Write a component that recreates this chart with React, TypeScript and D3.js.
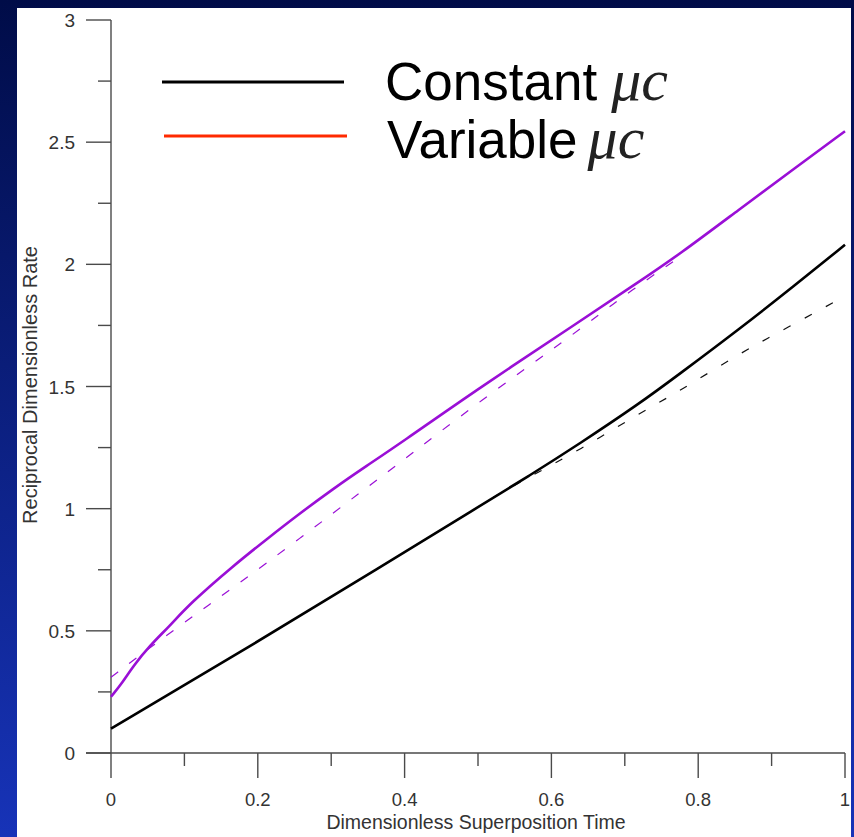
import React from "react";
import * as d3 from "d3";

const constX = [0, 0.2, 0.366, 0.502, 0.57, 0.638, 0.72, 0.774, 0.856, 0.93, 1.0];
const constY = [0.1, 0.455, 0.76, 1.01, 1.135, 1.265, 1.43, 1.55, 1.735, 1.91, 2.08];

const constDashX = [0.52, 0.57, 0.638, 0.72, 0.774, 0.856, 0.921, 1.0];
const constDashY = [1.045, 1.13, 1.24, 1.39, 1.48, 1.635, 1.74, 1.87];

const varX = [0, 0.016, 0.03, 0.053, 0.08, 0.107, 0.166, 0.212, 0.257, 0.302, 0.348, 0.393, 0.502, 0.638, 0.72, 0.774, 0.856, 0.93, 1.0];
const varY = [0.23, 0.29, 0.355, 0.44, 0.52, 0.61, 0.765, 0.875, 0.98, 1.08, 1.175, 1.265, 1.495, 1.765, 1.93, 2.04, 2.225, 2.39, 2.545];

const varDashX = [0, 0.057, 0.121, 0.166, 0.257, 0.348, 0.384, 0.502, 0.638, 0.693, 0.77];
const varDashY = [0.31, 0.44, 0.58, 0.676, 0.877, 1.086, 1.165, 1.44, 1.73, 1.86, 2.02];

const xMajor = [0, 0.2, 0.4, 0.6, 0.8, 1];
const xMinor = [0.1, 0.3, 0.5, 0.7, 0.9];
const yMajor = [0, 0.5, 1, 1.5, 2, 2.5, 3];
const yMinor = [0.25, 0.75, 1.25, 1.75, 2.25, 2.75];

const legendLabels = ["Constant", "Variable"];
const legendSymbol = "μc";
const xTitle = "Dimensionless Superposition Time";
const yTitle = "Reciprocal Dimensionless Rate";

export default function App() {
  const W = 854, H = 837;
  const x = d3.scaleLinear().domain([0, 1]).range([111, 845]);
  const y = d3.scaleLinear().domain([0, 3]).range([753, 20]);
  const line = (xs: number[], ys: number[]) =>
    d3.line<number>().x((_, i) => x(xs[i])).y((d) => y(d)).curve(d3.curveBasis)(ys) || "";

  const axisColor = "#4a4a4a";
  const textColor = "#333";
  const font = "'Liberation Sans', Arial, sans-serif";
  const serif = "'Liberation Serif', 'Times New Roman', serif";
  const purple = "#9a0fd6";

  return (
    <svg width={W} height={H} style={{ position: "absolute", left: 0, top: 0 }}>
      <defs>
        <linearGradient id="bg" x1="0" y1="0" x2="0" y2="1">
          <stop offset="0" stopColor="#000c48" />
          <stop offset="1" stopColor="#1733b8" />
        </linearGradient>
      </defs>
      <rect x={0} y={0} width={W} height={H} fill="url(#bg)" />
      <rect x={17} y={8} width={834} height={H - 8} fill="#fff" />

      {/* axes */}
      <line x1={111} y1={y(3)} x2={111} y2={y(0)} stroke={axisColor} strokeWidth={1.4} />
      <line x1={86} y1={y(0)} x2={x(1)} y2={y(0)} stroke={axisColor} strokeWidth={1.4} />
      {xMajor.map((v) => (
        <g key={"xM" + v}>
          <line x1={x(v)} x2={x(v)} y1={y(0)} y2={y(0) + 25} stroke={axisColor} strokeWidth={1.4} />
          <text x={x(v)} y={806} textAnchor="middle" fontFamily={font} fontSize={18.5} fill={textColor}>
            {v}
          </text>
        </g>
      ))}
      {xMinor.map((v) => (
        <line key={"xm" + v} x1={x(v)} x2={x(v)} y1={y(0)} y2={y(0) + 13} stroke={axisColor} strokeWidth={1.4} />
      ))}
      {yMajor.map((v) => (
        <g key={"yM" + v}>
          <line x1={86} x2={111} y1={y(v)} y2={y(v)} stroke={axisColor} strokeWidth={1.4} />
          <text x={75} y={y(v) + 7} textAnchor="end" fontFamily={font} fontSize={19} fill={textColor}>
            {v}
          </text>
        </g>
      ))}
      {yMinor.map((v) => (
        <line key={"ym" + v} x1={98} x2={111} y1={y(v)} y2={y(v)} stroke={axisColor} strokeWidth={1.4} />
      ))}

      <text x={476} y={829} textAnchor="middle" fontFamily={font} fontSize={19.5} fill={textColor}>
        {xTitle}
      </text>
      <text
        transform={`translate(37,385) rotate(-90)`}
        textAnchor="middle"
        fontFamily={font}
        fontSize={20}
        fill={textColor}
      >
        {yTitle}
      </text>

      {/* series */}
      <path d={line(varDashX, varDashY)} fill="none" stroke={purple} strokeWidth={1.2} strokeDasharray="9,14" />
      <path d={line(constDashX, constDashY)} fill="none" stroke="#111" strokeWidth={1.2} strokeDasharray="8,16" />
      <path d={line(constX, constY)} fill="none" stroke="#000" strokeWidth={2.6} />
      <path d={line(varX, varY)} fill="none" stroke={purple} strokeWidth={2.6} />

      {/* legend */}
      <line x1={162} x2={344} y1={82} y2={82} stroke="#000" strokeWidth={3} />
      <line x1={164} x2={347} y1={136} y2={136} stroke="#ff2a00" strokeWidth={3} />
      <text x={385} y={100} fontFamily={font} fontSize={53} fill="#000">
        {legendLabels[0]}
        <tspan dx={14} fontFamily={serif} fontStyle="italic" fontSize={60} fill="#222">
          {legendSymbol}
        </tspan>
      </text>
      <text x={387} y={158} fontFamily={font} fontSize={53} fill="#000">
        {legendLabels[1]}
        <tspan dx={10} fontFamily={serif} fontStyle="italic" fontSize={60} fill="#222">
          {legendSymbol}
        </tspan>
      </text>
    </svg>
  );
}
